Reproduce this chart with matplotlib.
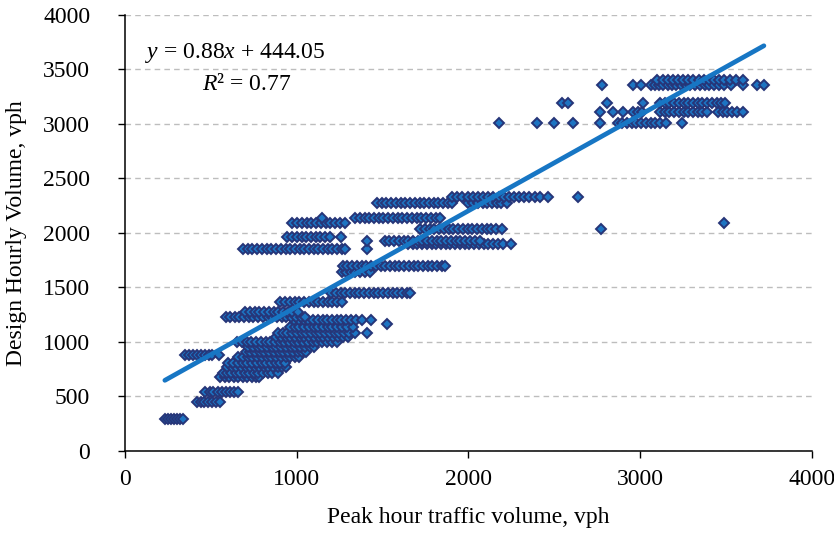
import matplotlib
matplotlib.use("Agg")
import matplotlib.pyplot as plt
import numpy as np

# peak hour traffic volume (x) grouped by design hourly volume level (y)
dhv_levels = [290, 450, 540, 880, 680, 720, 770, 810, 860, 905, 950, 1000,
              1045, 1085, 1140, 1165, 1200, 1230, 1275, 1370, 1450, 1640,
              1700, 1850, 1895, 1930, 1965, 2040, 2090, 2140, 2275, 2330,
              3010, 3110, 3190, 3360, 3400]

phv_by_level = [
    [232, 250, 268, 287, 305, 322, 338],
    [418, 440, 462, 485, 508, 530, 555],
    [468, 492, 515, 540, 563, 588, 612, 635, 655],
    [352, 375, 398, 420, 445, 468, 490, 508, 545],
    [555, 580, 605, 632, 660, 688, 712, 740, 765, 778],
    [568, 592, 618, 645, 670, 698, 722, 750, 775, 802, 830, 855, 888],
    [595, 622, 648, 675, 702, 728, 755, 780, 808, 835, 862, 888, 915, 940],
    [602, 630, 658, 685, 712, 740, 768, 795, 822, 850, 878, 905, 932],
    [660, 688, 715, 742, 770, 798, 825, 852, 880, 908, 935, 962, 990, 1012],
    [702, 730, 758, 785, 812, 840, 868, 895, 922, 950, 978, 1005, 1032, 1055],
    [718, 745, 772, 800, 828, 855, 882, 910, 938, 965, 992, 1020, 1048, 1075, 1100],
    [652, 680, 708, 735, 762, 790, 818, 845, 872, 900, 928, 955, 982, 1010, 1038,
     1065, 1092, 1120, 1148, 1175, 1205, 1235],
    [880, 908, 935, 962, 990, 1018, 1045, 1072, 1100, 1128, 1155, 1182, 1210, 1240,
     1268, 1300],
    [890, 918, 945, 972, 1000, 1028, 1055, 1082, 1110, 1138, 1165, 1192, 1220, 1248,
     1275, 1305, 1340, 1408],
    [960, 988, 1015, 1042, 1070, 1098, 1125, 1152, 1180, 1208, 1235, 1262, 1290, 1330],
    [1525],
    [985, 1012, 1040, 1068, 1095, 1122, 1150, 1178, 1205, 1232, 1260, 1288, 1315,
     1345, 1380, 1430],
    [588, 612, 638, 665, 692, 720, 748, 775, 802, 830, 858, 885, 912, 940, 968, 995,
     1022, 1050],
    [700, 728, 755, 782, 810, 838, 865, 892, 920, 948, 975, 1008],
    [905, 932, 960, 988, 1015, 1042, 1070, 1098, 1125, 1152, 1180, 1208, 1235, 1262],
    [1200, 1228, 1255, 1282, 1310, 1338, 1365, 1392, 1420, 1448, 1475, 1502, 1530,
     1558, 1585, 1612, 1640, 1662],
    [1262, 1288, 1315, 1342, 1370, 1398, 1428],
    [1268, 1295, 1322, 1350, 1378, 1405, 1432, 1460, 1488, 1515, 1542, 1570, 1598,
     1625, 1652, 1680, 1708, 1735, 1762, 1790, 1818, 1845, 1862],
    [688, 715, 742, 770, 798, 825, 852, 880, 908, 935, 962, 990, 1018, 1045, 1072,
     1100, 1125, 1152, 1180, 1208, 1235, 1262, 1282, 1410],
    [1648, 1675, 1702, 1730, 1758, 1785, 1812, 1840, 1868, 1895, 1922, 1950, 1978,
     2005, 2032, 2060, 2088, 2115, 2142, 2170, 2200, 2250],
    [1410, 1512, 1540, 1568, 1595, 1622, 1650, 1678, 1705, 1732, 1760, 1788, 1815,
     1842, 1870, 1898, 1925, 1952, 1980, 2008, 2035, 2068],
    [945, 972, 1000, 1028, 1055, 1082, 1110, 1138, 1165, 1195, 1255],
    [1720, 1748, 1775, 1802, 1830, 1858, 1885, 1912, 1940, 1968, 1995, 2022, 2050,
     2078, 2105, 2132, 2160, 2195, 2770],
    [975, 1002, 1030, 1058, 1085, 1112, 1140, 1168, 1195, 1222, 1250, 1280, 3490],
    [1145, 1340, 1368, 1395, 1422, 1450, 1478, 1505, 1532, 1560, 1588, 1615, 1642,
     1670, 1698, 1725, 1752, 1780, 1808, 1835],
    [1468, 1495, 1522, 1550, 1578, 1605, 1632, 1660, 1688, 1715, 1742, 1770, 1798,
     1825, 1852, 1880, 1902, 2000, 2028, 2055, 2082, 2110, 2138, 2165, 2192, 2222],
    [1905, 1935, 1965, 1995, 2025, 2055, 2085, 2115, 2145, 2175, 2205, 2235, 2265,
     2295, 2325, 2355, 2385, 2415, 2460, 2640],
    [2177, 2399, 2495, 2608, 2766, 2868, 2895, 2922, 2950, 2978, 3005, 3032, 3060,
     3088, 3115, 3150, 3243],
    [2766, 2841, 2900, 2958, 2985, 3010, 3115, 3142, 3170, 3198, 3225, 3252, 3280,
     3308, 3335, 3362, 3388, 3453, 3480, 3508, 3535, 3565, 3598],
    [2545, 2580, 2806, 3016, 3115, 3142, 3170, 3198, 3225, 3252, 3280, 3308, 3335,
     3362, 3390, 3418, 3445, 3470, 3494],
    [2777, 2958, 3006, 3060, 3085, 3110, 3130, 3160, 3185, 3210, 3238, 3265, 3292,
     3320, 3348, 3375, 3402, 3430, 3458, 3490, 3530, 3598, 3680, 3720],
    [3100, 3130, 3160, 3190, 3220, 3250, 3280, 3310, 3340, 3370, 3400, 3430, 3460,
     3490, 3520, 3560, 3600],
]

# linear trend as printed on the chart
slope = 0.88
intercept = 444.05
r_squared = 0.77

x_ticks = [0, 1000, 2000, 3000, 4000]
y_ticks = [0, 500, 1000, 1500, 2000, 2500, 3000, 3500, 4000]

plt.rcParams['font.family'] = ['Liberation Serif', 'DejaVu Serif']
plt.rcParams['mathtext.fontset'] = 'custom'
plt.rcParams['mathtext.rm'] = 'Liberation Serif'
plt.rcParams['mathtext.it'] = 'Liberation Serif:italic'

fig = plt.figure(figsize=(8.34, 5.39), dpi=100)
ax = fig.add_axes([0.1499, 0.1633, 0.8237, 0.8089])

x_all = np.concatenate([np.array(xs, dtype=float) for xs in phv_by_level])
y_all = np.concatenate([np.full(len(xs), lv, dtype=float)
                        for lv, xs in zip(dhv_levels, phv_by_level)])

ax.plot(x_all, y_all, linestyle='none', marker='D', markersize=5.0,
        markerfacecolor='#1d74c2', markeredgecolor='#263578',
        markeredgewidth=1.4, zorder=3)

# trend line over the data range
x_line = np.array([x_all.min(), x_all.max()])
ax.plot(x_line, slope * x_line + intercept, color='#1776c4', linewidth=3.4,
        solid_capstyle='round', zorder=4)

ax.text(116, 3655, r'$y$ = 0.88$x$ + 444.05', fontsize=17, va='center')
ax.text(448, 3360, r'$R$² = %.2f' % r_squared, fontsize=17, va='center')

ax.set_xlim(0, 4000)
ax.set_ylim(0, 4000)
ax.set_xticks(x_ticks)
ax.set_yticks(y_ticks)
ax.tick_params(axis='both', labelsize=17, direction='out', length=5, width=1)
ax.tick_params(axis='y', pad=20)
ax.tick_params(axis='x', pad=8)

ax.yaxis.grid(True, color='#bdbdbd', linestyle=(0, (4, 3)), linewidth=1)
ax.set_axisbelow(True)
for side in ['top', 'right']:
    ax.spines[side].set_visible(False)
for side in ['left', 'bottom']:
    ax.spines[side].set_linewidth(1.1)

ax.set_xlabel('Peak hour traffic volume, vph', fontsize=17, labelpad=12)
ax.set_ylabel('Design Hourly Volume, vph', fontsize=17, labelpad=12)

fig.savefig('out.png', dpi=100)
